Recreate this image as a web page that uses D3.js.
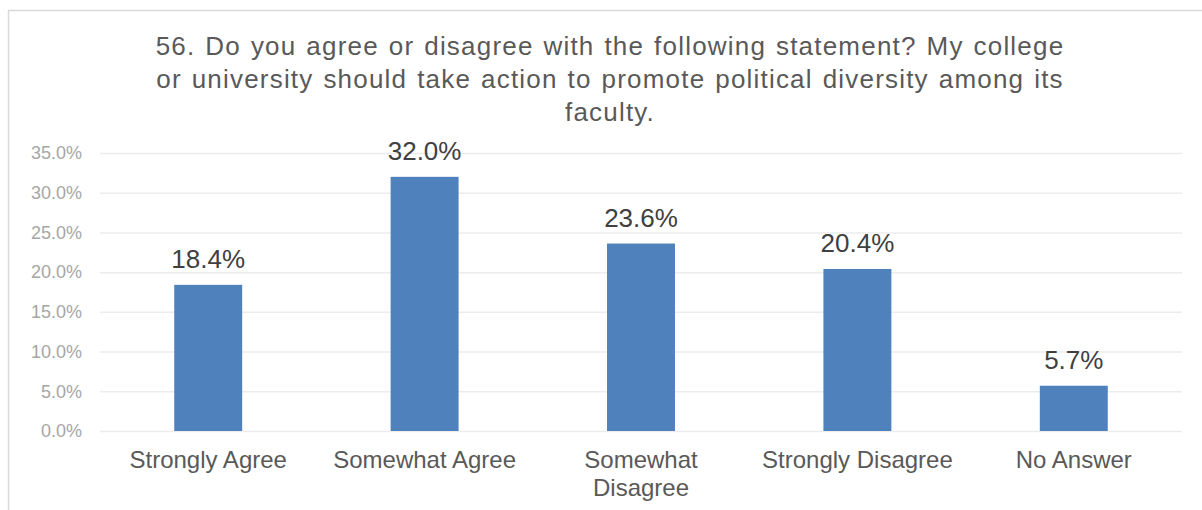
<!DOCTYPE html>
<html>
<head>
<meta charset="utf-8">
<script src="https://cdn.jsdelivr.net/npm/d3@7"></script>
<style>
  body { margin: 0; background: #fff; }
  svg { display: block; font-family: "Liberation Sans", Arial, sans-serif; }
</style>
</head>
<body>
<svg id="mainsvg" width="1202" height="510"></svg>
<script>
// chart data
var categories = ["Strongly Agree", "Somewhat Agree", "Somewhat Disagree", "Strongly Disagree", "No Answer"];
var values = [18.4, 32.0, 23.6, 20.4, 5.7];
var yTicks = [0, 5, 10, 15, 20, 25, 30, 35];
var titleLines = [
    "56. Do you agree or disagree with the following statement? My college",
    "or university should take action to promote political diversity among its",
    "faculty."
];

var svg = d3.select("#mainsvg");

// outer chart frame (cut off at right and bottom, as in the source)
svg.append("rect")
    .attr("x", 8.5).attr("y", 10.5)
    .attr("width", 1300).attr("height", 600)
    .attr("fill", "none")
    .attr("stroke", "#d9d9d9")
    .attr("stroke-width", 1.5);

var margin = {left: 100, right: 20, top: 153, bottom: 79};
var W = 1202, H = 510;

var x = d3.scaleBand()
    .domain(categories)
    .range([margin.left, W - margin.right])
    .paddingInner(0.686)
    .paddingOuter(0.343);

var y = d3.scaleLinear()
    .domain([0, 35])
    .range([H - margin.bottom, margin.top]);

// gridlines
svg.append("g")
    .selectAll("line")
    .data(yTicks)
    .enter().append("line")
    .attr("x1", margin.left).attr("x2", W - margin.right)
    .attr("y1", function(d){ return y(d) + 0.5; })
    .attr("y2", function(d){ return y(d) + 0.5; })
    .attr("stroke", "#ececec")
    .attr("stroke-width", 1.5);

// y axis labels
var yAxis = d3.axisLeft(y)
    .tickValues(yTicks)
    .tickSize(0)
    .tickPadding(18)
    .tickFormat(function(d){ return d.toFixed(1) + "%"; });
var gy = svg.append("g")
    .attr("transform", "translate(" + margin.left + ",0)")
    .call(yAxis);
gy.select(".domain").remove();
gy.selectAll("text")
    .attr("font-size", 18)
    .attr("font-family", "Liberation Sans, Arial, sans-serif")
    .attr("fill", "#a6a6a6");

// bars
svg.append("g")
    .selectAll("rect")
    .data(values)
    .enter().append("rect")
    .attr("x", function(d, i){ return x(categories[i]); })
    .attr("y", function(d){ return y(d); })
    .attr("width", x.bandwidth())
    .attr("height", function(d){ return y(0) - y(d); })
    .attr("fill", "#4f81bd");

// data labels
svg.append("g")
    .selectAll("text")
    .data(values)
    .enter().append("text")
    .attr("x", function(d, i){ return x(categories[i]) + x.bandwidth() / 2; })
    .attr("y", function(d){ return y(d) - 17; })
    .attr("text-anchor", "middle")
    .attr("font-size", 26)
    .attr("fill", "#404040")
    .text(function(d){ return d.toFixed(1) + "%"; });

// category labels (wrap long ones)
var xAxis = svg.append("g");
categories.forEach(function(c, i){
    var lines = c === "Somewhat Disagree" ? ["Somewhat", "Disagree"] : [c];
    var t = xAxis.append("text")
        .attr("text-anchor", "middle")
        .attr("font-size", 24)
        .attr("fill", "#595959")
        .attr("transform", "translate(" + (x(c) + x.bandwidth() / 2) + "," + (y(0) + 37) + ")");
    lines.forEach(function(l, j){
        t.append("tspan")
            .attr("x", 0)
            .attr("dy", j === 0 ? 0 : 28)
            .text(l);
    });
});

// title
var title = svg.append("text")
    .attr("text-anchor", "middle")
    .attr("font-size", 26)
    .attr("letter-spacing", 1.2)
    .attr("word-spacing", 1.5)
    .attr("fill", "#595959")
    .attr("transform", "translate(610,55)");
titleLines.forEach(function(l, j){
    title.append("tspan")
        .attr("x", 0)
        .attr("dy", j === 0 ? 0 : 33)
        .text(l);
});
</script>
</body>
</html>
